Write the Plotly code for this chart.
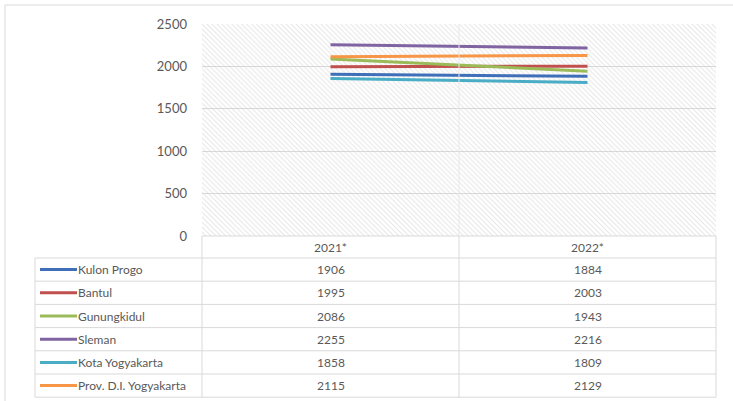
import plotly.graph_objects as go

# Data
years = ["2021*", "2022*"]
regions = ["Kulon Progo", "Bantul", "Gunungkidul", "Sleman", "Kota Yogyakarta", "Prov. D.I. Yogyakarta"]
kulon_progo = [1906, 1884]
bantul = [1995, 2003]
gunungkidul = [2086, 1943]
sleman = [2255, 2216]
kota_yogyakarta = [1858, 1809]
prov_diy = [2115, 2129]
series = [kulon_progo, bantul, gunungkidul, sleman, kota_yogyakarta, prov_diy]
colors = ["#3F6FB8", "#C0504D", "#9BBB59", "#8064A2", "#4BACC6", "#F79646"]
y_ticks = [0, 500, 1000, 1500, 2000, 2500]

W, H = 733, 401
TEXT = "#595959"
GRID = "#d9d9d9"
FONT = "Lato"


def fx(px):
    return px / W


def fy(py):
    return 1 - py / H


# Layout geometry (pixels)
PL, PR, PT, PB = 202, 716, 24, 236
LEG_L = 35
ROW_TOP = 258
ROW_H = 23.2
COL_MID = (PL + PR) / 2

x_pos = list(range(len(years)))
x_range = [-0.5, len(years) - 0.5]
y_range = [y_ticks[0], y_ticks[-1]]

fig = go.Figure()

# Hatched plot-area background
fig.add_trace(go.Scatter(
    x=[x_range[0], x_range[1], x_range[1], x_range[0], x_range[0]],
    y=[y_range[0], y_range[0], y_range[1], y_range[1], y_range[0]],
    mode="none", fill="toself", fillcolor="rgba(0,0,0,0)",
    fillpattern=dict(shape="\\", fgcolor="#cccccc", bgcolor="rgba(0,0,0,0)",
                     size=3.5, solidity=0.3),
    hoverinfo="skip", showlegend=False,
))

for name, vals, c in zip(regions, series, colors):
    fig.add_trace(go.Scatter(
        x=x_pos, y=vals, mode="lines", name=name,
        line=dict(color=c, width=3), showlegend=False,
    ))

shapes = []


def hline(x0, x1, y, color=GRID):
    shapes.append(dict(type="line", xref="paper", yref="paper",
                       x0=fx(x0), x1=fx(x1), y0=fy(y), y1=fy(y),
                       line=dict(color=color, width=1)))


def vline(x, y0, y1, color=GRID):
    shapes.append(dict(type="line", xref="paper", yref="paper",
                       x0=fx(x), x1=fx(x), y0=fy(y0), y1=fy(y1),
                       line=dict(color=color, width=1)))


# Outer frame (top and left edges)
hline(5, W, 5)
vline(5, 5, H)

# Data table grid
n = len(regions)
table_bottom = ROW_TOP + n * ROW_H
hline(PL, PR, PB)
for i in range(n + 1):
    hline(LEG_L, PR, ROW_TOP + i * ROW_H)
vline(LEG_L, ROW_TOP, table_bottom)
vline(PL, PB, table_bottom)
vline(COL_MID, PT, PB, color="#e8e8e8")
vline(COL_MID, PB, table_bottom)
vline(PR, PB, table_bottom)

annotations = []
col_centers = [PL + (PR - PL) * (i + 0.5) / len(years) for i in range(len(years))]

# Header row
for yr, cx in zip(years, col_centers):
    annotations.append(dict(xref="paper", yref="paper", x=fx(cx), y=fy((PB + ROW_TOP) / 2),
                            text=yr, showarrow=False, xanchor="center", yanchor="middle",
                            font=dict(family=FONT, size=12, color=TEXT)))

# Rows: legend key + values
for i, (name, vals, c) in enumerate(zip(regions, series, colors)):
    cy = ROW_TOP + (i + 0.5) * ROW_H
    shapes.append(dict(type="line", xref="paper", yref="paper",
                       x0=fx(40), x1=fx(77), y0=fy(cy), y1=fy(cy),
                       line=dict(color=c, width=3)))
    annotations.append(dict(xref="paper", yref="paper", x=fx(76), y=fy(cy),
                            text=name, showarrow=False, xanchor="left", yanchor="middle",
                            font=dict(family=FONT, size=12, color=TEXT)))
    for v, cx in zip(vals, col_centers):
        annotations.append(dict(xref="paper", yref="paper", x=fx(cx), y=fy(cy),
                                text=str(v), showarrow=False, xanchor="center", yanchor="middle",
                                font=dict(family=FONT, size=12, color=TEXT)))

fig.update_layout(
    width=W, height=H,
    margin=dict(l=0, r=0, t=0, b=0, pad=0, autoexpand=False),
    paper_bgcolor="white", plot_bgcolor="white",
    shapes=shapes, annotations=annotations,
    xaxis=dict(domain=[fx(PL), fx(PR)], range=x_range, showgrid=False,
               showticklabels=False, zeroline=False, showline=False,
               fixedrange=True, automargin=False),
    yaxis=dict(domain=[fy(PB), fy(PT)], range=y_range, tickvals=y_ticks,
               showgrid=True, gridcolor=GRID, gridwidth=1, zeroline=False,
               showline=False, ticks="", ticklabelstandoff=14, automargin=False,
               tickfont=dict(family=FONT, size=13, color=TEXT)),
    showlegend=False,
)

fig.write_html("out.html")
